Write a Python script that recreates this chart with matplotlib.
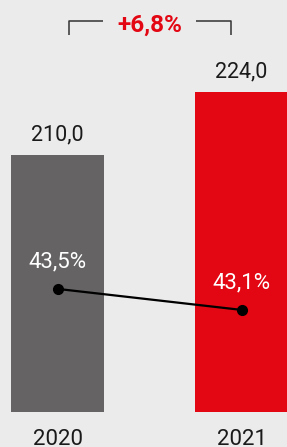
import matplotlib
matplotlib.use("Agg")
from matplotlib import pyplot as plt

# data
years = ["2020", "2021"]
revenue = [210.0, 224.0]
revenue_labels = ["210,0", "224,0"]
margin = [43.5, 43.1]
margin_labels = ["43,5%", "43,1%"]
growth_label = "+6,8%"

BG = "#ebebeb"
GREY = "#656363"
RED = "#e30613"
BASE = 152.9  # axis baseline of the bars

plt.rcParams['font.family'] = ['Roboto', 'DejaVu Sans']

fig = plt.figure(figsize=(2.87, 4.47), dpi=100, facecolor=BG)
ax = fig.add_axes([0, 0, 1, 1])
ax.set_facecolor(BG)

x = [0, 1]
ax.bar(x, [v - BASE for v in revenue], width=0.505, color=[GREY, RED], bottom=BASE)
ax.set_xlim(-0.3125, 1.247)
ax.set_ylim(145.1, 244.4)
ax.axis('off')

for xi, v, lab in zip(x, revenue, revenue_labels):
    ax.annotate(lab, (xi, v), xytext=(0, 14), textcoords='offset pixels',
                ha='center', va='baseline', fontsize=15.5, color='#1a1a1a')

# year labels (cut at the bottom edge like the original)
for xi, lab in zip(x, years):
    ax.text(xi, 149.2, lab, ha='center', va='top', fontsize=16, color='#1a1a1a')

# margin line on second axis
ax2 = ax.twinx()
ax2.set_ylim(40.49, 49.0)
ax2.axis('off')
ax2.plot(x, margin, color='black', lw=1.6, marker='o', ms=7)
for xi, v, lab in zip(x, margin, margin_labels):
    ax2.annotate(lab, (xi, v), xytext=(0, 21), textcoords='offset pixels',
                 ha='center', va='baseline', fontsize=16, color='white')

# growth bracket
ax.plot([0.0625, 0.0625, 0.247], [236.7, 239.8, 239.8], color='#333333', lw=1.1,
        solid_capstyle='butt')
ax.plot([0.753, 0.943, 0.943], [239.8, 239.8, 236.7], color='#333333', lw=1.1,
        solid_capstyle='butt')
ax.text(0.503, 237.3, growth_label, ha='center', va='baseline', fontsize=17.5,
        fontweight='bold', color=RED)

fig.savefig('out.png', dpi=100, facecolor=BG)
